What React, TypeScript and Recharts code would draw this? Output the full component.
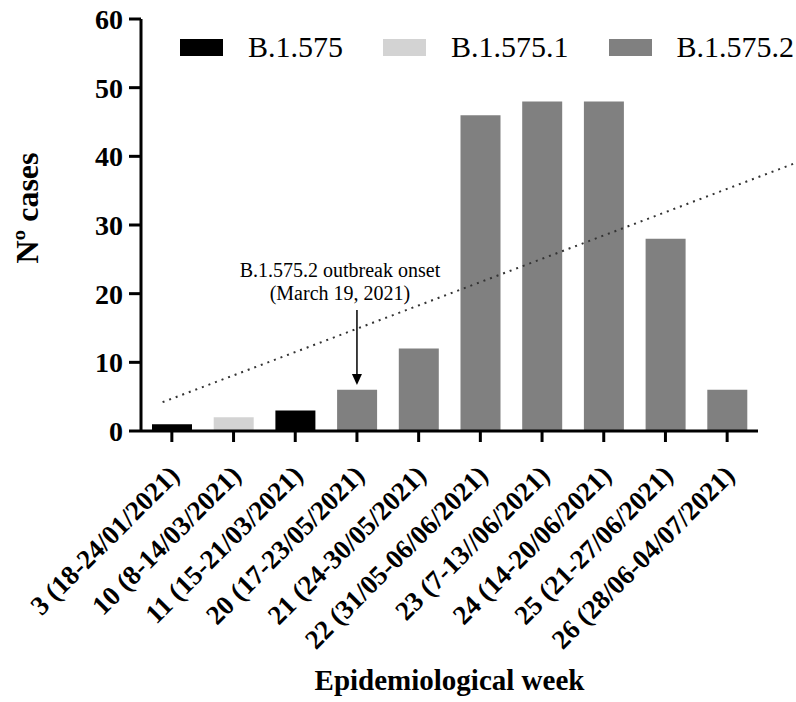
import React from 'react';
import {
  ComposedChart,
  Bar,
  XAxis,
  YAxis,
  Legend,
  ReferenceLine,
  ReferenceDot,
} from 'recharts';

const SERIF = '"Liberation Serif", "Times New Roman", serif';

const weeks = [
  '3 (18-24/01/2021)',
  '10 (8-14/03/2021)',
  '11 (15-21/03/2021)',
  '20 (17-23/05/2021)',
  '21 (24-30/05/2021)',
  '22 (31/05-06/06/2021)',
  '23 (7-13//06/2021)',
  '24 (14-20/06/2021)',
  '25 (21-27/06/2021)',
  '26 (28/06-04/07/2021)',
];

const b1575 = [1, 0, 3, 0, 0, 0, 0, 0, 0, 0];
const b15751 = [0, 2, 0, 0, 0, 0, 0, 0, 0, 0];
const b15752 = [0, 0, 0, 6, 12, 46, 48, 48, 28, 6];

const yTicks = [0, 10, 20, 30, 40, 50, 60];

// dotted trend line, end points (x in week index units)
const trend = [
  { x: -0.15, y: 4.2 },
  { x: 10.1, y: 39 },
];

const onset = { x: 3, tip: 6.7, lines: ['B.1.575.2 outbreak onset', '(March 19, 2021)'] };

const data = weeks.map((week, i) => ({
  idx: i,
  week,
  b1575: b1575[i],
  b15751: b15751[i],
  b15752: b15752[i],
}));

const WeekTick = (props: any) => {
  const { x, y, payload } = props;
  return (
    <g transform={`translate(${x + 9},${y + 33})`}>
      <text
        transform="rotate(-45)"
        textAnchor="end"
        fontFamily={SERIF}
        fontSize={27}
        fontWeight="bold"
        fill="#000"
      >
        {weeks[payload.value]}
      </text>
    </g>
  );
};

const LegendBox = (props: any) => {
  const items = props.payload || [];
  return (
    <div style={{ display: 'flex', alignItems: 'center' }}>
      {items.map((it: any) => (
        <div key={it.value} style={{ display: 'flex', alignItems: 'center', marginRight: 40 }}>
          <span style={{ width: 43, height: 17, background: it.color, display: 'inline-block', marginRight: 25 }} />
          <span style={{ fontFamily: SERIF, fontSize: 30, color: '#000', lineHeight: '30px' }}>{it.value}</span>
        </div>
      ))}
    </div>
  );
};

const OnsetNote = (props: any) => {
  const { cx, cy } = props;
  if (cx == null || cy == null) return null;
  return (
    <g>
      <line x1={cx} y1={cy - 75} x2={cx} y2={cy - 9} stroke="#000" strokeWidth={1.5} />
      <path d={`M${cx - 5},${cy - 11} L${cx + 5},${cy - 11} L${cx},${cy} Z`} fill="#000" />
      {onset.lines.map((t, i) => (
        <text
          key={t}
          x={cx - 17}
          y={cy - 108 + i * 23}
          textAnchor="middle"
          fontFamily={SERIF}
          fontSize={20}
          fill="#000"
        >
          {t}
        </text>
      ))}
    </g>
  );
};

export default function App() {
  return (
    <div style={{ position: 'absolute', left: 0, top: 0, background: '#fff' }}>
      <ComposedChart
        width={796}
        height={702}
        data={data}
        margin={{ top: 19, right: 38, bottom: 0, left: 0 }}
        style={{ fontFamily: SERIF }}
      >
        <XAxis
          dataKey="idx"
          type="number"
          domain={[-0.5, 9.5]}
          ticks={weeks.map((_, i) => i)}
          interval={0}
          height={271}
          tick={<WeekTick />}
          tickSize={11}
          axisLine={{ stroke: '#000', strokeWidth: 3 }}
          tickLine={{ stroke: '#000', strokeWidth: 3 }}
          label={{
            content: (p: any) => (
              <text
                x={p.viewBox.x + p.viewBox.width / 2}
                y={p.viewBox.y + 259}
                textAnchor="middle"
                fontFamily={SERIF}
                fontSize={29}
                fontWeight="bold"
                fill="#000"
              >
                Epidemiological week
              </text>
            ),
          }}
        />
        <YAxis
          width={141}
          domain={[0, 60]}
          ticks={yTicks}
          interval={0}
          tickSize={12}
          tickMargin={6}
          tick={{ fontFamily: SERIF, fontSize: 28, fontWeight: 'bold', fill: '#000' }}
          axisLine={{ stroke: '#000', strokeWidth: 3 }}
          tickLine={{ stroke: '#000', strokeWidth: 3 }}
          label={{
            content: (p: any) => {
              const cx = 27;
              const cy = p.viewBox.y + p.viewBox.height / 2 - 17;
              return (
                <text
                  x={cx}
                  y={cy}
                  transform={`rotate(-90, ${cx}, ${cy})`}
                  textAnchor="middle"
                  dominantBaseline="central"
                  fontFamily={SERIF}
                  fontSize={32}
                  fontWeight="bold"
                  fill="#000"
                >
                  Nº cases
                </text>
              );
            },
          }}
        />
        <Legend
          layout="horizontal"
          verticalAlign="middle"
          align="center"
          content={<LegendBox />}
          wrapperStyle={{ top: 32, left: 180, width: 'auto', height: 30 }}
        />
        <Bar dataKey="b1575" name="B.1.575" stackId="a" fill="#000000" barSize={40} isAnimationActive={false} />
        <Bar dataKey="b15751" name="B.1.575.1" stackId="a" fill="#d3d3d3" barSize={40} isAnimationActive={false} />
        <Bar dataKey="b15752" name="B.1.575.2" stackId="a" fill="#808080" barSize={40} isAnimationActive={false} />
        <ReferenceLine
          segment={trend}
          ifOverflow="visible"
          stroke="#333"
          strokeWidth={2}
          strokeDasharray="2 5"
        />
        <ReferenceDot x={onset.x} y={onset.tip} ifOverflow="visible" shape={<OnsetNote />} />
      </ComposedChart>
    </div>
  );
}
